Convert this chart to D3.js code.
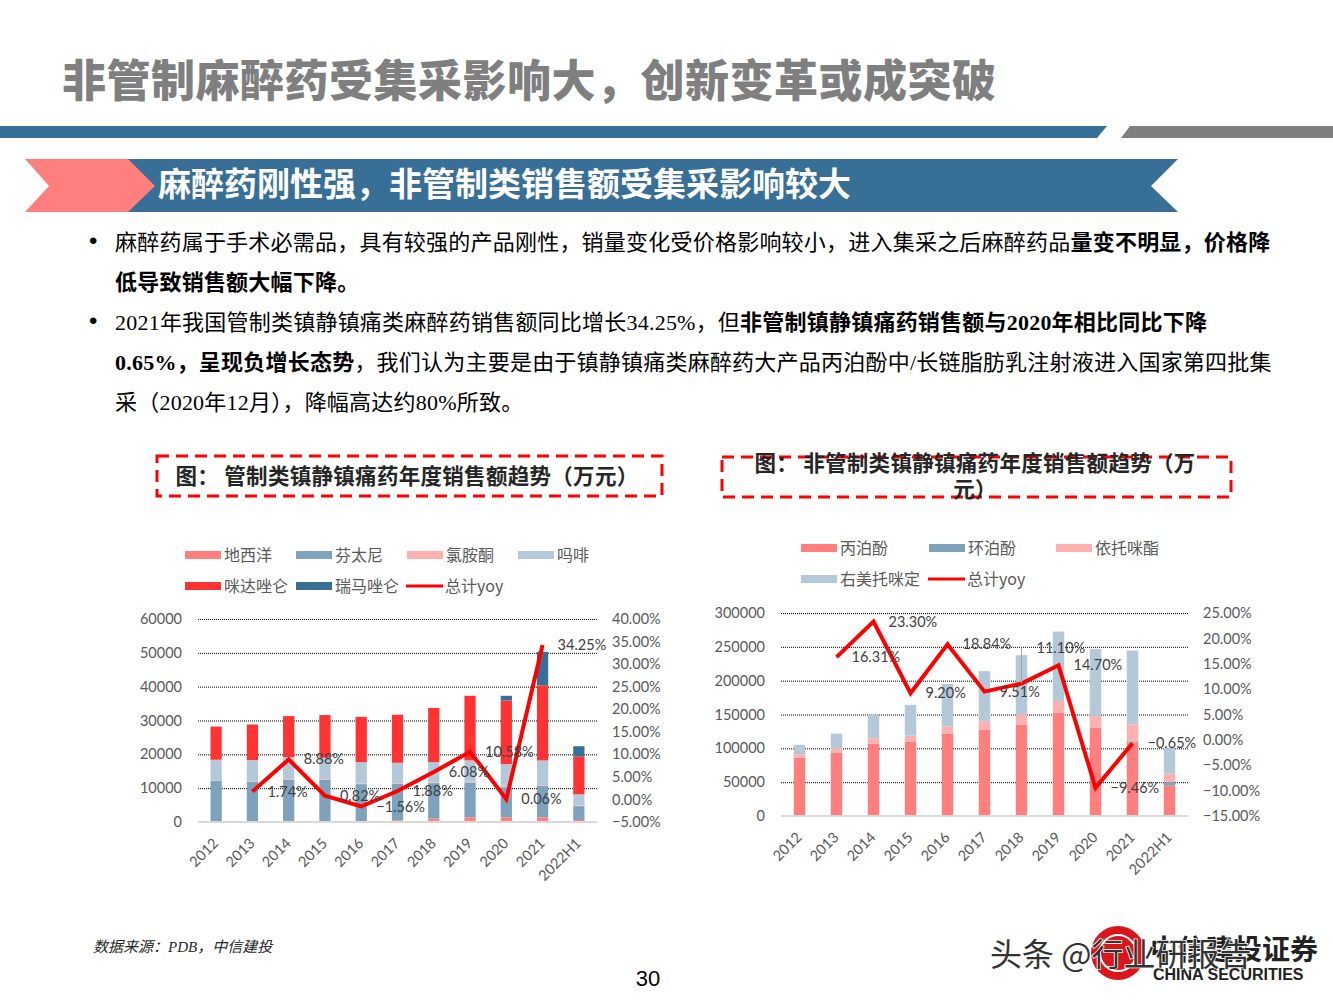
<!DOCTYPE html>
<html>
<head>
<meta charset="utf-8">
<script src="https://cdn.jsdelivr.net/npm/d3@7"></script>
<style>
  html, body { margin: 0; padding: 0; background: #fff; }
  svg text { font-family: "Noto Sans CJK SC", sans-serif; }
  .num { font-family: Lato, "Noto Sans CJK SC", sans-serif; }
</style>
</head>
<body>
<div id="slide"></div>
<script>
// Categories
const years = ["2012", "2013", "2014", "2015", "2016", "2017", "2018", "2019", "2020", "2021", "2022H1"];

// Left chart: controlled sedatives / analgesics (万元)
const leftNames = ["地西洋", "芬太尼", "氯胺酮", "吗啡", "咪达唑仑", "瑞马唑仑"];
const diXiYang = [100, 100, 100, 200, 300, 500, 1000, 1400, 1400, 1400, 600];
const fenTaiNi = [12100, 11800, 12400, 12300, 10900, 10800, 10500, 10300, 8900, 9300, 4100];
const lvAnTong = [100, 200, 200, 200, 200, 200, 200, 200, 200, 200, 200];
const maFei = [6100, 6200, 6500, 6300, 6300, 6000, 6000, 6300, 6600, 7300, 3300];
const miDaZuoLun = [9800, 10500, 12100, 12600, 13400, 14200, 16000, 19100, 18800, 22200, 11100];
const ruiMaZuoLun = [0, 0, 0, 0, 0, 0, 0, 0, 1400, 9900, 3100];
const leftYoy = [null, 1.74, 8.88, 0.82, -1.56, 1.88, 6.08, 10.58, 0.06, 34.25, null];
const leftTicks = [0, 10000, 20000, 30000, 40000, 50000, 60000];
const leftPctTicks = [-5, 0, 5, 10, 15, 20, 25, 30, 35, 40];

// Right chart: non-controlled sedatives / analgesics (万元)
const rightNames = ["丙泊酚", "环泊酚", "依托咪酯", "右美托咪定"];
const bingBoFen = [86200, 93200, 107000, 109900, 121700, 127200, 135100, 152800, 130600, 108400, 44800];
const huanBoFen = [0, 0, 0, 0, 0, 0, 0, 0, 0, 2000, 5500];
const yiTuoMiZhi = [5100, 5900, 7900, 8900, 10400, 12800, 15300, 17300, 17300, 25200, 12300];
const youMeiTuoMiDing = [13700, 22700, 35000, 45400, 63200, 74000, 87300, 102500, 98700, 108900, 37500];
const rightYoy = [null, 16.31, 23.30, 9.20, 18.84, 9.51, 11.10, 14.70, -9.46, -0.65, null];
const rightTicks = [0, 50000, 100000, 150000, 200000, 250000, 300000];
const rightPctTicks = [-15, -10, -5, 0, 5, 10, 15, 20, 25];

const yoyName = "总计yoy";

// Colours
const leftColors = ["#FF7F7F", "#7FA2BC", "#FFB1B1", "#B3C8D8", "#FF3333", "#376F96"];
const rightColors = ["#FF7F7F", "#7FA2BC", "#FFB1B1", "#B3C8D8"];
const LINE_RED = "#FF0000";
const AXIS_TXT = "#595959";

const svg = d3.select("#slide").append("svg")
  .attr("width", 1333).attr("height", 1000);

// ---------- header ----------
svg.append("text")
  .attr("x", 62).attr("y", 97)
  .attr("font-size", 44).attr("font-weight", 900)
  .attr("letter-spacing", 0.5)
  .attr("fill", "#7F7F7F")
  .text("非管制麻醉药受集采影响大，创新变革或成突破");

svg.append("polygon")
  .attr("points", "0,126 1107,126 1097,138 0,138")
  .attr("fill", "#376F96");
svg.append("polygon")
  .attr("points", "1130,126 1333,126 1333,138 1121,138")
  .attr("fill", "#7F7F7F");

// banner
svg.append("polygon")
  .attr("points", "128,159 1178,159 1151,186 1178,212 128,212")
  .attr("fill", "#376F96");
svg.append("polygon")
  .attr("points", "25,159 128,159 155,186 128,212 25,212 49,186")
  .attr("fill", "#FF7F7F");
svg.append("text")
  .attr("x", 158).attr("y", 196)
  .attr("font-size", 33).attr("font-weight", 700)
  .attr("fill", "#fff")
  .text("麻醉药刚性强，非管制类销售额受集采影响较大");

// ---------- bullet text ----------
const bulletLines = [
  [["麻醉药属于手术必需品，具有较强的产品刚性，销量变化受价格影响较小，进入集采之后麻醉药品", false], ["量变不明显，价格降", true]],
  [["低导致销售额大幅下降。", true]],
  [["2021年我国管制类镇静镇痛类麻醉药销售额同比增长34.25%，但", false], ["非管制镇静镇痛药销售额与2020年相比同比下降", true]],
  [["0.65%，呈现负增长态势", true], ["，我们认为主要是由于镇静镇痛类麻醉药大产品丙泊酚中/长链脂肪乳注射液进入国家第四批集", false]],
  [["采（2020年12月），降幅高达约80%所致。", false]]
];
const bulletStarts = [0, 2];

const body = svg.append("g");
bulletLines.forEach((segs, i) => {
  const y = 250 + i * 40;
  if (bulletStarts.includes(i)) {
    body.append("text").attr("x", 89).attr("y", y - 1)
      .attr("font-size", 24).attr("fill", "#000")
      .style("font-family", "'Liberation Sans', sans-serif").text("•");
  }
  const t = body.append("text")
    .attr("x", 115).attr("y", y)
    .attr("font-size", 22).attr("fill", "#000")
    .attr("letter-spacing", 0.22)
    .style("font-family", "'Liberation Serif', 'Noto Sans CJK SC', serif");
  segs.forEach(([s, b]) => {
    t.append("tspan").attr("font-weight", b ? 700 : 400).text(s);
  });
});

// ---------- chart title boxes ----------
function titleBox(x, y, w, h, lines, cx, baseY) {
  svg.append("rect")
    .attr("x", x).attr("y", y).attr("width", w).attr("height", h)
    .attr("fill", "none").attr("stroke", "#FF0000")
    .attr("stroke-width", 3).attr("stroke-dasharray", "12,7");
  lines.forEach((l, i) => {
    svg.append("text")
      .attr("x", cx).attr("y", baseY + i * 26)
      .attr("text-anchor", "middle")
      .attr("font-size", 21.5).attr("font-weight", 700)
      .attr("letter-spacing", 0.3)
      .attr("fill", "#262626")
      .text(l);
  });
}
titleBox(157, 456, 505, 40, ["图： 管制类镇静镇痛药年度销售额趋势（万元）"], 407, 484);
titleBox(722, 457, 509, 40, ["图： 非管制类镇静镇痛药年度销售额趋势（万", "元）"], 975, 471);

// ---------- chart builder ----------
function drawChart(cfg) {
  const g = svg.append("g");
  const x = d3.scaleBand(years, [cfg.x0, cfg.x1]).paddingInner(0.69).paddingOuter(0.345);
  const y = d3.scaleLinear(cfg.yDomain, [cfg.yBottom, cfg.yTop]);
  const y2 = d3.scaleLinear(cfg.y2Domain, [cfg.yBottom, cfg.yTop]);

  // gridlines
  const grid = g.append("g")
    .attr("transform", `translate(${cfg.x0},0)`)
    .call(d3.axisLeft(y).tickValues(cfg.ticks.filter(d => d > 0))
      .tickSize(-(cfg.x1 - cfg.x0)).tickFormat(""));
  grid.select(".domain").remove();
  grid.selectAll("line").attr("stroke", "#000").attr("stroke-width", 1)
    .attr("stroke-dasharray", "1,1");

  // bars
  const table = years.map((yr, i) => {
    const row = { year: yr };
    cfg.names.forEach((n, k) => { row[n] = cfg.series[k][i]; });
    return row;
  });
  const stacked = d3.stack().keys(cfg.names)(table);
  g.selectAll("g.layer").data(stacked).join("g")
    .attr("class", "layer")
    .attr("fill", (d, i) => cfg.colors[i])
    .selectAll("rect").data(d => d).join("rect")
    .attr("x", d => x(d.data.year))
    .attr("width", x.bandwidth())
    .attr("y", d => y(d[1]))
    .attr("height", d => Math.max(0, y(d[0]) - y(d[1])));

  // zero line
  g.append("line")
    .attr("x1", cfg.x0).attr("x2", cfg.x1)
    .attr("y1", y(0)).attr("y2", y(0))
    .attr("stroke", "#D9D9D9").attr("stroke-width", 2);

  // left axis
  const la = g.append("g").attr("class", "num")
    .attr("transform", `translate(${cfg.x0 - 16},0)`)
    .call(d3.axisLeft(y).tickValues(cfg.ticks).tickSize(0).tickPadding(0).tickFormat(d3.format("d")));
  la.select(".domain").remove();
  la.selectAll("text").attr("font-size", 14.5).attr("fill", AXIS_TXT)
    .style("font-family", "Lato, sans-serif");

  // right axis
  const ra = g.append("g")
    .attr("transform", `translate(${cfg.x1 + 15},0)`)
    .call(d3.axisRight(y2).tickValues(cfg.pctTicks).tickSize(0).tickPadding(0)
      .tickFormat(d => d3.format(".2f")(d) + "%"));
  ra.select(".domain").remove();
  ra.selectAll("text").attr("font-size", 14.5).attr("fill", AXIS_TXT)
    .style("font-family", "Lato, sans-serif");

  // x axis
  const xa = g.append("g")
    .attr("transform", `translate(0,${cfg.yBottom + 15})`)
    .call(d3.axisBottom(x).tickSize(0).tickPadding(0));
  xa.select(".domain").remove();
  xa.selectAll("text")
    .attr("font-size", 14.5).attr("fill", AXIS_TXT)
    .style("font-family", "Lato, sans-serif")
    .attr("text-anchor", "end")
    .attr("dy", "0.7em").attr("dx", "0em")
    .attr("transform", "translate(-4,0) rotate(-45)");

  // yoy line
  const pts = years.map((yr, i) => ({ year: yr, v: cfg.yoy[i] })).filter(d => d.v !== null);
  const cx = d => x(d.year) + x.bandwidth() / 2;
  g.append("path")
    .datum(pts)
    .attr("fill", "none").attr("stroke", LINE_RED)
    .attr("stroke-width", 4).attr("stroke-linejoin", "miter")
    .attr("d", d3.line().x(cx).y(d => y2(d.v)));

  // labels
  pts.forEach(d => {
    let ly = y2(d.v);
    const lift = cfg.lift && cfg.lift[d.year] ? cfg.lift[d.year] : 0;
    if (lift) {
      g.append("line")
        .attr("x1", cx(d)).attr("x2", cx(d))
        .attr("y1", ly).attr("y2", ly - lift)
        .attr("stroke", "#A6A6A6").attr("stroke-width", 1);
      ly -= lift;
    }
    g.append("text")
      .attr("x", cx(d) + 15).attr("y", ly)
      .attr("dy", "0.35em")
      .attr("font-size", 14.5).attr("fill", "#404040")
      .style("font-family", "Lato, sans-serif")
      .text(d3.format(".2f")(d.v) + "%");
  });

  // legend
  const lg = g.append("g");
  cfg.legend.forEach(item => {
    if (item.line) {
      lg.append("line")
        .attr("x1", item.x).attr("x2", item.x + 37)
        .attr("y1", item.y).attr("y2", item.y)
        .attr("stroke", LINE_RED).attr("stroke-width", 3);
    } else {
      lg.append("rect")
        .attr("x", item.x).attr("y", item.y - 4)
        .attr("width", 36).attr("height", 8)
        .attr("fill", item.color);
    }
    lg.append("text")
      .attr("x", item.x + 39).attr("y", item.y)
      .attr("dy", "0.36em")
      .attr("font-size", 16).attr("fill", AXIS_TXT)
      .text(item.name);
  });
}

drawChart({
  x0: 198, x1: 597, yBottom: 822, yTop: 619,
  yDomain: [0, 60000], y2Domain: [-5, 40],
  ticks: leftTicks, pctTicks: leftPctTicks,
  names: leftNames, colors: leftColors,
  series: [diXiYang, fenTaiNi, lvAnTong, maFei, miDaZuoLun, ruiMaZuoLun],
  yoy: leftYoy,
  legend: [
    { name: leftNames[0], color: leftColors[0], x: 185, y: 555 },
    { name: leftNames[1], color: leftColors[1], x: 296, y: 555 },
    { name: leftNames[2], color: leftColors[2], x: 407, y: 555 },
    { name: leftNames[3], color: leftColors[3], x: 518, y: 555 },
    { name: leftNames[4], color: leftColors[4], x: 185, y: 586 },
    { name: leftNames[5], color: leftColors[5], x: 296, y: 586 },
    { name: yoyName, line: true, x: 406, y: 586 }
  ]
});

drawChart({
  x0: 781, x1: 1188, yBottom: 816, yTop: 613,
  yDomain: [0, 300000], y2Domain: [-15, 25],
  ticks: rightTicks, pctTicks: rightPctTicks,
  names: rightNames, colors: rightColors,
  series: [bingBoFen, huanBoFen, yiTuoMiZhi, youMeiTuoMiDing],
  yoy: rightYoy,
  lift: { "2018": 36 },
  legend: [
    { name: rightNames[0], color: rightColors[0], x: 801, y: 548 },
    { name: rightNames[1], color: rightColors[1], x: 929, y: 548 },
    { name: rightNames[2], color: rightColors[2], x: 1056, y: 548 },
    { name: rightNames[3], color: rightColors[3], x: 801, y: 579 },
    { name: yoyName, line: true, x: 928, y: 579 }
  ]
});

// ---------- footer ----------
svg.append("text")
  .attr("x", 93).attr("y", 952)
  .attr("font-size", 15).attr("font-style", "italic")
  .attr("fill", "#262626")
  .style("font-family", "'Liberation Serif', 'Noto Sans CJK SC', serif")
  .text("数据来源：PDB，中信建投");

svg.append("text")
  .attr("x", 648).attr("y", 986)
  .attr("text-anchor", "middle")
  .attr("font-size", 22).attr("fill", "#000")
  .style("font-family", "'Liberation Sans', sans-serif")
  .text("30");

// logo (overlapped by the watermark, as in the source)
const logo = svg.append("g");
logo.append("circle").attr("cx", 1118).attr("cy", 953).attr("r", 27).attr("fill", "#D8161C");
logo.append("circle").attr("cx", 1118).attr("cy", 953).attr("r", 18).attr("fill", "none")
  .attr("stroke", "#fff").attr("stroke-width", 2);
logo.append("text").attr("x", 1150).attr("y", 960)
  .attr("font-size", 28).attr("font-weight", 700).attr("fill", "#222")
  .text("中信建投证券");
logo.append("text").attr("x", 1153).attr("y", 980)
  .attr("font-size", 16).attr("font-weight", 700).attr("fill", "#222")
  .style("font-family", "'Liberation Sans', sans-serif")
  .text("CHINA SECURITIES");
logo.append("text").attr("x", 990).attr("y", 966)
  .attr("font-size", 32).attr("fill", "#333")
  .attr("stroke", "#fff").attr("stroke-width", 1.5).attr("paint-order", "stroke")
  .text("头条 @行业研报告");
</script>
</body>
</html>
